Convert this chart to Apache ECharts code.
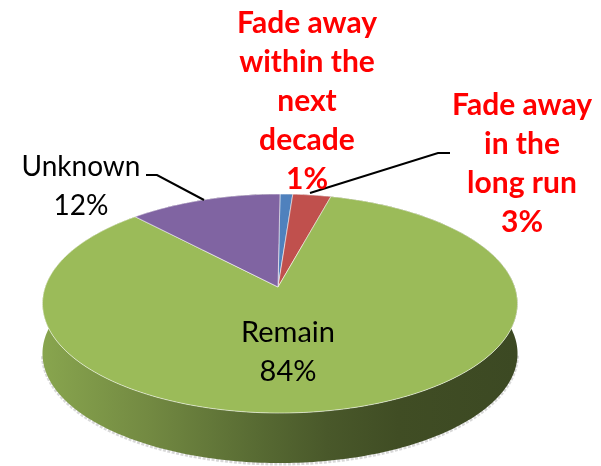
<!DOCTYPE html>
<html>
<head>
<meta charset="utf-8">
<style>html,body{margin:0;padding:0;background:#fff}#chart{width:601px;height:466px}</style>
<script src="https://cdn.jsdelivr.net/npm/echarts@6/dist/echarts.min.js"></script>
</head>
<body>
<div id="chart"></div>
<script>
// Survey shares, clockwise from twelve o'clock
const categories = ['Fade away\nwithin the\nnext\ndecade', 'Fade away\nin the\nlong run', 'Remain', 'Unknown'];
const shares = [1, 3, 84, 12];
const sliceColors = ['#4f81bd', '#c0504d', '#9bbb59', '#8064a2'];

// Tilted disc: a unit circle seen through a simple perspective
const disc = { apexX: 278, apexY: 287, rimX: 280, a: 234.8, b: 107, k: 0.151, depth: 50 };
const total = shares.reduce((s, v) => s + v, 0);

function rimPoint(deg) {
  const t = deg * Math.PI / 180;
  const X = Math.sin(t), Y = Math.cos(t), w = 1 + disc.k * Y;
  return [disc.rimX + disc.a * X / w, disc.apexY - disc.b * Y / w];
}
function arc(i) {
  let from = 0;
  for (let j = 0; j < i; j++) from += shares[j] / total * 360;
  const to = from + shares[i] / total * 360, pts = [];
  const n = Math.max(2, Math.ceil(to - from));
  for (let s = 0; s <= n; s++) pts.push(rimPoint(from + (to - from) * s / n));
  return pts;
}
// Side wall darkens from left to right: brightness factor of the slice colour
const shadeStops = [[0, 0.88], [0.22, 0.74], [0.45, 0.57], [0.6, 0.47], [0.75, 0.41], [1, 0.39]];
function shade(hex, f) {
  const n = parseInt(hex.slice(1), 16);
  return 'rgb(' + [n >> 16, (n >> 8) & 255, n & 255].map(c => Math.round(c * f)).join(',') + ')';
}

function renderWall(params) {
  const i = params.dataIndex, rim = arc(i);
  const lower = rim.map(p => [p[0], p[1] + disc.depth]);
  const front = lower.filter(p => p[1] > disc.apexY + disc.depth + 16);
  const fill = new echarts.graphic.LinearGradient(0, 0, 1, 0,
    shadeStops.map(s => ({ offset: s[0], color: shade(sliceColors[i], s[1]) })));
  return {
    type: 'group',
    children: [
      { type: 'polyline', shape: { points: front.map(p => [p[0], p[1] + 1]) },
        style: { fill: null, stroke: '#d8d8d8', lineWidth: 3, lineDash: [3, 1.5] } },
      { type: 'polygon', shape: { points: rim.concat(lower.slice().reverse()) }, style: { fill: fill } }
    ]
  };
}
function renderTop(params) {
  const i = params.dataIndex;
  return {
    type: 'polygon',
    shape: { points: [[disc.apexX, disc.apexY]].concat(arc(i)) },
    style: { fill: sliceColors[i], stroke: 'rgba(255,255,255,0.55)', lineWidth: 1, lineJoin: 'round' }
  };
}

// Label anchors, type and leader lines
const labelSpots = [[307, 101], [522, 164], [288, 352], [81, 186]];
const labelFonts = ['bold 30px Lato', 'bold 30px Lato', '29px Lato', '28px Lato'];
const labelFills = ['#ff0000', '#ff0000', '#000000', '#000000'];
const leaders = [
  [[310, 193], [438, 153], [450, 153]],
  [[146, 175], [157, 175], [204, 200]]
];

const graphicItems = categories.map((name, i) => ({
  type: 'text', x: labelSpots[i][0], y: labelSpots[i][1], z: 20,
  style: {
    text: name + '\n' + shares[i] + '%', font: labelFonts[i], fill: labelFills[i],
    lineHeight: 39, align: 'center', verticalAlign: 'middle'
  }
})).concat(leaders.map(pts => ({
  type: 'polyline', z: 15, shape: { points: pts },
  style: { fill: null, stroke: '#000', lineWidth: 2 }
})));

const chart = echarts.init(document.getElementById('chart'), null, { renderer: 'canvas' });
chart.setOption({
  animation: false,
  backgroundColor: '#ffffff',
  graphic: graphicItems,
  series: [
    { type: 'custom', coordinateSystem: 'none', data: shares, renderItem: renderWall, silent: true, z: 1 },
    { type: 'custom', coordinateSystem: 'none', data: shares, renderItem: renderTop, silent: true, z: 2 }
  ]
});
</script>
</body>
</html>
